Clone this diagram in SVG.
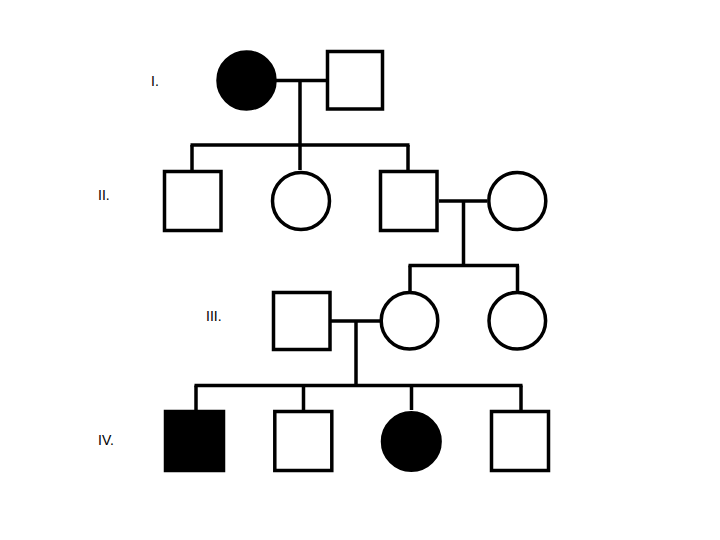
<svg xmlns="http://www.w3.org/2000/svg" width="720" height="540" viewBox="0 0 720 540">
<style>
.n{fill:#fff;stroke:#000;stroke-width:3.5}
.f{fill:#000;stroke:#000;stroke-width:3.5}
.c line{stroke:#000;stroke-width:3.5}
text{font-family:"Liberation Sans",Arial,sans-serif;font-size:14px;fill:#000}
</style>
<rect width="720" height="540" fill="#fff"/>
<g class="c" id="connectors">
<line x1="276" y1="80.5" x2="326" y2="80.5"/>
<line x1="300" y1="80.5" x2="300" y2="145"/>
<line x1="190.5" y1="145" x2="409.5" y2="145"/>
<line x1="192" y1="145" x2="192" y2="170"/>
<line x1="300" y1="145" x2="300" y2="170"/>
<line x1="408" y1="145" x2="408" y2="170"/>
<line x1="439" y1="201" x2="487" y2="201"/>
<line x1="463.5" y1="201" x2="463.5" y2="265.5"/>
<line x1="408.5" y1="265.5" x2="519" y2="265.5"/>
<line x1="410" y1="265.5" x2="410" y2="291"/>
<line x1="517.5" y1="265.5" x2="517.5" y2="291"/>
<line x1="331" y1="321" x2="380" y2="321"/>
<line x1="356" y1="321" x2="356" y2="385.5"/>
<line x1="194.5" y1="385.5" x2="522.5" y2="385.5"/>
<line x1="196" y1="385.5" x2="196" y2="410"/>
<line x1="303.5" y1="385.5" x2="303.5" y2="410"/>
<line x1="411.5" y1="385.5" x2="411.5" y2="410"/>
<line x1="521" y1="385.5" x2="521" y2="410"/>
</g>
<g id="gen-labels">
<text x="151" y="86">I.</text>
<text x="98" y="200">II.</text>
<text x="206" y="321">III.</text>
<text x="98" y="445">IV.</text>
</g>
<g id="I-1"><circle class="f" cx="246.5" cy="80.5" r="28.5"/></g>
<g id="I-2"><rect class="n" x="327.5" y="51.5" width="55" height="57.5"/></g>
<g id="II-1"><rect class="n" x="164.5" y="171.5" width="56.5" height="59"/></g>
<g id="II-2"><circle class="n" cx="301" cy="201" r="28.5"/></g>
<g id="II-3"><rect class="n" x="380.5" y="171.5" width="56.5" height="59"/></g>
<g id="II-4"><circle class="n" cx="517.3" cy="201" r="28.5"/></g>
<g id="III-1"><rect class="n" x="273.5" y="292.5" width="56.5" height="57"/></g>
<g id="III-2"><circle class="n" cx="409.5" cy="320.8" r="28.3"/></g>
<g id="III-3"><circle class="n" cx="517.3" cy="320.8" r="28.3"/></g>
<g id="IV-1"><rect class="f" x="165.5" y="411.5" width="58" height="59"/></g>
<g id="IV-2"><rect class="n" x="274.8" y="411.5" width="57" height="59"/></g>
<g id="IV-3"><circle class="f" cx="411.3" cy="441.5" r="28.8"/></g>
<g id="IV-4"><rect class="n" x="491.5" y="411.5" width="57" height="59"/></g>
</svg>
